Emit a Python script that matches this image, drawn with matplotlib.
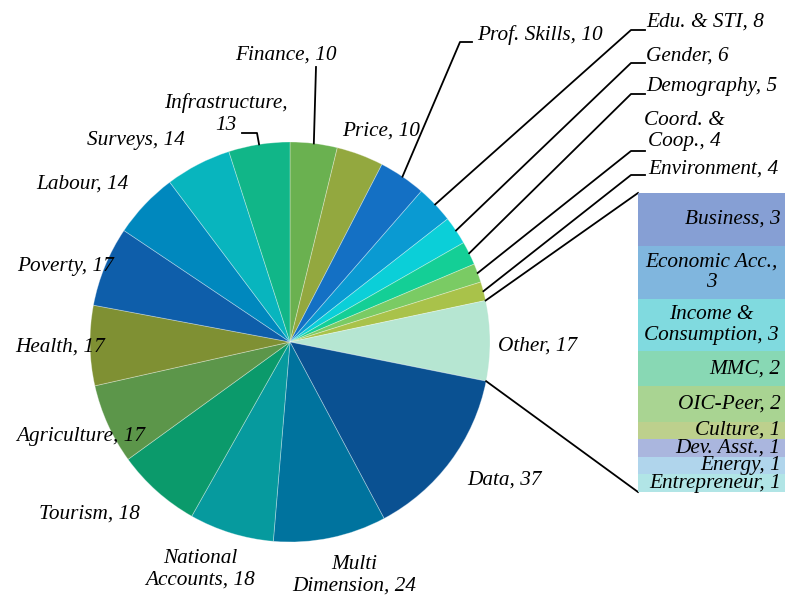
import numpy as np
import matplotlib
matplotlib.use("Agg")
import matplotlib.pyplot as plt

# pie slices, clockwise from 12 o'clock
labels = ["Finance, 10", "Price, 10", "Prof. Skills, 10", "Edu. & STI, 8", "Gender, 6",
          "Demography, 5", "Coord. &\nCoop., 4", "Environment, 4", "Other, 17", "Data, 37",
          "Multi\nDimension, 24", "National\nAccounts, 18", "Tourism, 18", "Agriculture, 17",
          "Health, 17", "Poverty, 17", "Labour, 14", "Surveys, 14", "Infrastructure,\n13"]
values = [10, 10, 10, 8, 6, 5, 4, 4, 17, 37, 24, 18, 18, 17, 17, 17, 14, 14, 13]

# breakdown of "Other"
other_labels = ["Business, 3", "Economic Acc.,\n3", "Income &\nConsumption, 3", "MMC, 2",
                "OIC-Peer, 2", "Culture, 1", "Dev. Asst., 1", "Energy, 1", "Entrepreneur, 1"]
other_values = [3, 3, 3, 2, 2, 1, 1, 1, 1]

pie_colors = ["#6AB150", "#93A83F", "#1470C4", "#0A9AD2", "#0BCFD8", "#14CF96", "#7ACB64",
              "#A9C24A", "#B6E6D2", "#0A5192", "#00739E", "#069A9E", "#0B9A6B", "#5C964A",
              "#7F9033", "#0E5EAA", "#0088BE", "#08B5BE", "#11B688"]
bar_colors = ["#869FD4", "#80B6DE", "#80DADF", "#88D8B4", "#A9D492", "#BDD08D", "#AAB6DE",
              "#B0D5EC", "#B1E5E6"]

# label centres (pixels, from top-left)
label_pos = [(286, 55), (381, 131), (540, 35), (705, 22), (687, 56), (712, 87), (684, 131),
             (713, 169), (538, 346), (504, 480), (354, 575), (200, 569), (89, 514), (81, 437),
             (60, 347), (65, 266), (82, 184), (136, 141), (226, 114)]
# leader line elbows: index -> points after the slice edge
leaders = {0: [(316, 67)], 2: [(460, 42), (472, 42)], 3: [(631, 30), (645, 30)],
           4: [(631, 63), (645, 63)], 5: [(631, 94), (645, 94)], 6: [(631, 151), (645, 151)],
           7: [(631, 175), (645, 175)], 18: [(257, 133), (242, 133)]}

font = dict(family="Liberation Serif", style="italic", size=15.3)
W, H = 785, 595
cx, cy, R = 290, 342, 200

fig = plt.figure(figsize=(W / 100, H / 100), dpi=100)
ax = fig.add_axes([0, 0, 1, 1])
ax.pie(values, colors=pie_colors, startangle=-90, counterclock=True, radius=R, center=(cx, cy),
       wedgeprops=dict(edgecolor=(1, 1, 1, 0.35), linewidth=0.6))
ax.set_xlim(0, W)
ax.set_ylim(H, 0)
ax.set_aspect("auto")
ax.axis("off")

total = sum(values)
cum = np.concatenate([[0], np.cumsum(values)])


def edge_point(u):
    a = np.deg2rad(u / total * 360 - 90)
    return cx + R * np.cos(a), cy + R * np.sin(a)


for i, (lab, (x, y)) in enumerate(zip(labels, label_pos)):
    ax.text(x, y, lab, ha="center", va="center", linespacing=1.15, **font)
    if i in leaders:
        pts = [edge_point((cum[i] + cum[i + 1]) / 2)] + leaders[i]
        xs, ys = zip(*pts)
        ax.plot(xs, ys, color="black", lw=1.3)

# bar of "Other"
bx0, by0, bw, bh = 638, 193, 147, 299
ax2 = fig.add_axes([bx0 / W, 1 - (by0 + bh) / H, bw / W, bh / H])
bottoms = np.concatenate([[0], np.cumsum(other_values)[:-1]])
ax2.bar(0, other_values, bottom=bottoms, width=1, color=bar_colors)
ax2.set_xlim(-0.5, 0.5)
ax2.set_ylim(sum(other_values), 0)
ax2.axis("off")
for lab, b, v in zip(other_labels, bottoms, other_values):
    if "\n" in lab:
        ax2.text(0.0, b + v / 2, lab, ha="center", va="center", linespacing=1.15, **font)
    else:
        ax2.text(0.47, b + v / 2, lab, ha="right", va="center", **font)

# connectors from "Other" slice to the bar
ko = labels.index("Other, 17")
p1 = edge_point(cum[ko])
p2 = edge_point(cum[ko + 1])
ax.plot([p1[0], bx0], [p1[1], by0], color="black", lw=1.3)
ax.plot([p2[0], bx0], [p2[1], by0 + bh], color="black", lw=1.3)

fig.savefig("out.png", dpi=100)
